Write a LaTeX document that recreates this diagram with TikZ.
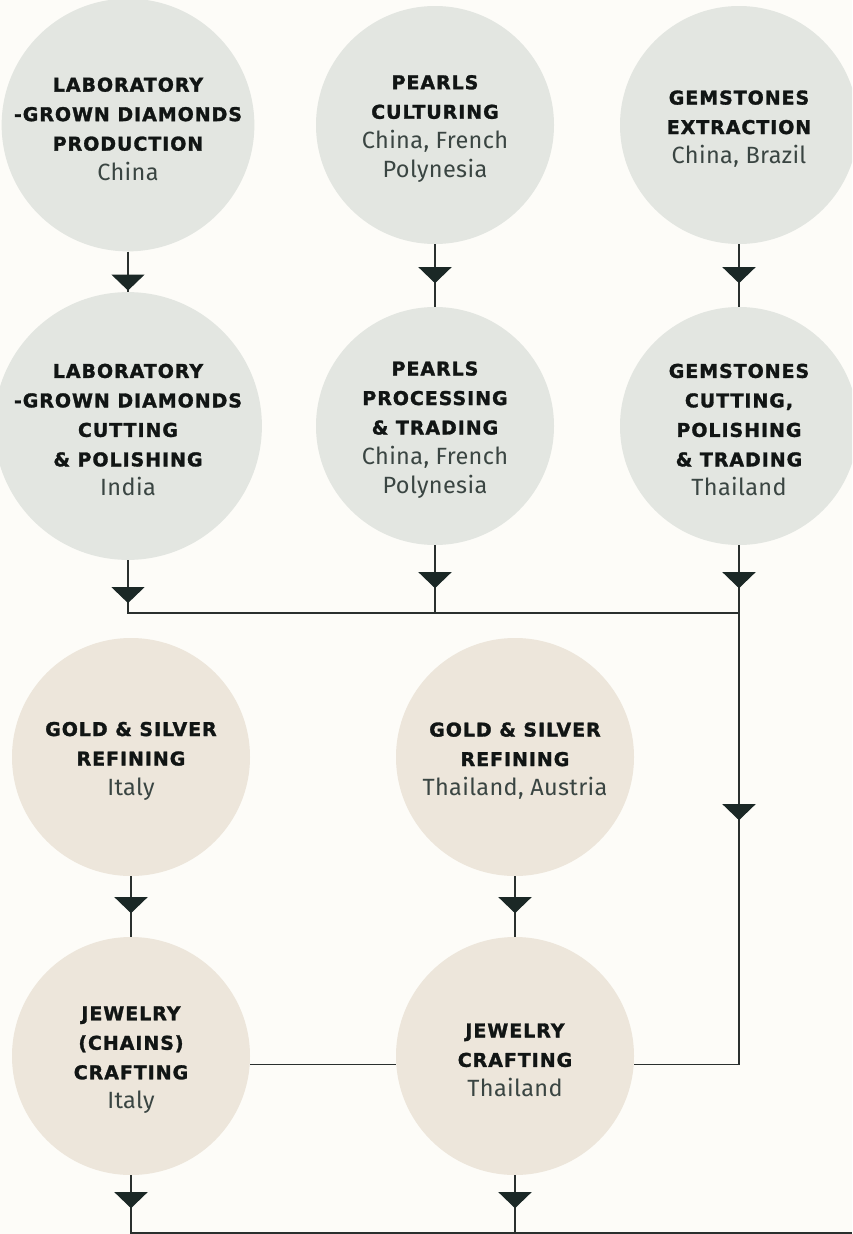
\documentclass[tikz,border=0pt]{standalone}
\usepackage{fontspec}
\usetikzlibrary{arrows.meta,decorations.markings}

\newfontfamily\headfont{DejaVu Sans Bold}[LetterSpace=5,FakeBold=1.5]
\newfontfamily\placefont{Fira Sans}[LetterSpace=1.5]

\definecolor{paper}{HTML}{FDFCF8}
\definecolor{mist}{HTML}{E3E6E1}
\definecolor{sand}{HTML}{EDE6DB}
\definecolor{ink}{HTML}{111514}
\definecolor{slate}{HTML}{3A4542}
\definecolor{wire}{HTML}{2A302E}
\definecolor{tipdark}{HTML}{1B2826}

% first line gets a taller strut, place names in light type
\newcommand{\lead}{\rule{0pt}{22pt}}
\newcommand{\place}{\placefont\fontsize{23.5}{30}\selectfont\color{slate}}

\tikzset{
  stepcircle/.style={circle,minimum size=238pt,inner sep=0pt,align=center,
    text=ink,font=\headfont\fontsize{19}{29.5}\selectfont},
  stonestep/.style={stepcircle,fill=mist},
  metalstep/.style={stepcircle,fill=sand},
  link/.style={draw=wire,line width=1.2pt},
  tip at/.style={postaction={decorate,decoration={markings,
    mark=at position #1 with {\arrow{Triangle[width=33pt,length=16pt,color=tipdark]}}}}}
}

\begin{document}
\begin{tikzpicture}[x=1pt,y=-1pt]
\fill[paper] (0,0) rectangle (852,1234);
\useasboundingbox (0,0) rectangle (852,1234);
\clip (0,0) rectangle (852,1234);

% stones and pearls
\node[stonestep] (lgd1) at (128,125) {\lead LABORATORY\\-GROWN DIAMONDS\\PRODUCTION\\\place China};
\node[stonestep] (prl1) at (435,125) {\lead PEARLS\\CULTURING\\\place China, French\\\place Polynesia};
\node[stonestep] (gem1) at (739,125) {\lead GEMSTONES\\EXTRACTION\\\place China, Brazil};

\node[stonestep] (lgd2) at (128,426) {\lead LABORATORY\\-GROWN DIAMONDS\\CUTTING\\\& POLISHING\\\place India};
\node[stonestep] (prl2) at (435,426) {\lead PEARLS\\PROCESSING\\\& TRADING\\\place China, French\\\place Polynesia};
\node[stonestep] (gem2) at (739,426) {\lead GEMSTONES\\CUTTING,\\POLISHING\\\& TRADING\\\place Thailand};

% metals and crafting
\node[metalstep] (gold1) at (131,757) {\lead GOLD \& SILVER\\REFINING\\\place Italy};
\node[metalstep] (gold2) at (515,757) {\lead GOLD \& SILVER\\REFINING\\\place Thailand, Austria};

\node[metalstep] (jwl1) at (131,1056) {\lead JEWELRY\\(CHAINS)\\CRAFTING\\\place Italy};
\node[metalstep] (jwl2) at (515,1056) {\lead JEWELRY\\CRAFTING\\\place Thailand};

\coordinate (hub) at (739,613);
\coordinate (turn) at (gem2 |- jwl2.-4.5);
\coordinate (edge) at (852,1233);

\draw[link,tip at=39pt] (lgd1) -- (lgd2);
\draw[link,tip at=39pt] (prl1) -- (prl2);
\draw[link,tip at=39pt] (gem1) -- (gem2);

\draw[link,tip at=43pt] (lgd2) |- (hub);
\draw[link,tip at=43pt] (prl2) -- (prl2 |- hub);
\draw[link,tip at=43pt,tip at=275pt] (gem2) -- (turn) -- (jwl2.-4.5);

\draw[link,tip at=37pt] (gold1) -- (jwl1);
\draw[link,tip at=37pt] (gold2) -- (jwl2);
\draw[link] (jwl1.-4.5) -- (jwl2.184.5);

\draw[link,tip at=33pt] (jwl1) |- (edge);
\draw[link,tip at=33pt] (jwl2) -- (jwl2 |- edge);
\end{tikzpicture}
\end{document}
